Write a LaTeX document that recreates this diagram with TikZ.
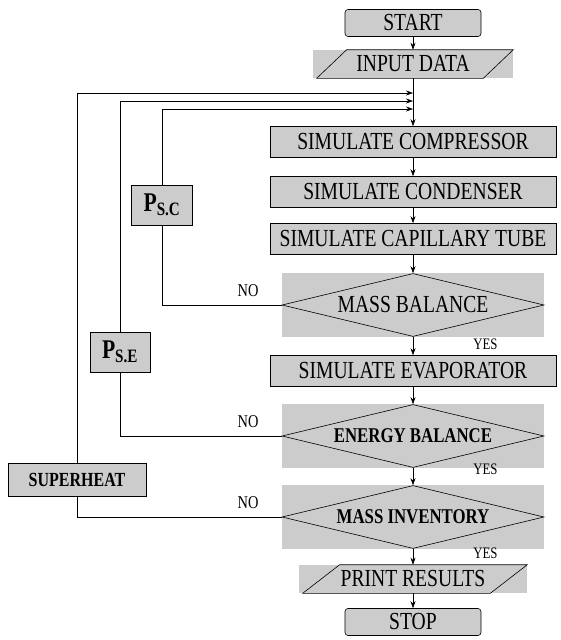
\documentclass[tikz,border=0pt]{standalone}
\usepackage{fontspec}
\setmainfont[FakeStretch=0.8]{Liberation Serif}
\usetikzlibrary{arrows.meta,shapes.geometric,positioning,backgrounds}

\begin{document}
\begin{tikzpicture}[x=1pt, y=1pt, ->, >={Stealth[length=7pt,width=5pt]}, line width=0.6pt,
    grey/.style={fill=black!20},
    proc/.style={rectangle, draw, grey, minimum width=286pt, minimum height=31pt, inner sep=0pt,
      font=\fontsize{24.5}{25}\selectfont},
    term/.style={proc, rounded corners=3pt, minimum width=136pt, minimum height=27pt},
    io/.style={rectangle, grey, minimum width=200pt, minimum height=28pt, inner sep=0pt,
      font=\fontsize{24.5}{25}\selectfont},
    test/.style={diamond, draw, grey, aspect=4, inner sep=0pt, minimum width=262pt, minimum height=63pt,
      font=\fontsize{24.5}{25}\selectfont},
    side/.style={rectangle, draw, grey, inner sep=0pt, font=\bfseries\fontsize{20}{22}\selectfont},
    lbl/.style={inner sep=0pt, font=\fontsize{18}{18}\selectfont}]
  \useasboundingbox (0,0) rectangle (560,-640);

  \node[term]  (start)                                    at (413,-23) {START};
  \node[io]    (input) [below of=start, node distance=41pt]  {INPUT DATA};
  \node[proc]  (comp)  [below of=input, node distance=78pt]  {SIMULATE COMPRESSOR};
  \node[proc]  (cond)  [below of=comp,  node distance=50pt]  {SIMULATE CONDENSER};
  \node[proc]  (cap)   [below of=cond,  node distance=47pt]  {SIMULATE CAPILLARY TUBE};
  \node[test]  (mb)    [below of=cap,   node distance=66pt]  {MASS BALANCE};
  \node[proc]  (evap)  [below of=mb,    node distance=66pt]  {SIMULATE EVAPORATOR};
  \node[test, font=\bfseries\fontsize{21}{22}\selectfont]
               (eb)    [below of=evap,  node distance=65pt]  {ENERGY BALANCE};
  \node[test, font=\bfseries\fontsize{21}{22}\selectfont]
               (mi)    [below of=eb,    node distance=81pt]  {MASS INVENTORY};
  \node[io, minimum width=228pt]
               (pr)    [below of=mi,    node distance=62pt]  {PRINT RESULTS};
  \node[term]  (stop)  [below of=pr,    node distance=43pt]  {STOP};

  \node[side, minimum width=61pt, minimum height=40pt]  (psc) at (162,-205)
    {\fontsize{27}{27}\selectfont P\textsubscript{S.C}};
  \node[side, minimum width=60pt, minimum height=40pt]  (pse) at (120,-352)
    {\fontsize{27}{27}\selectfont P\textsubscript{S.E}};
  \node[side, minimum width=138pt, minimum height=33pt] (sh)  at (77,-480) {SUPERHEAT};

  \coordinate[below of=input, node distance=29pt] (j1);
  \coordinate[below of=input, node distance=37pt] (j2);
  \coordinate[below of=input, node distance=45pt] (j3);

  % grey boxes behind the slanted and diamond shapes
  \begin{scope}[on background layer]
    \foreach \n in {mb,eb,mi}
      \fill[black!20] (\n.west |- \n.north) rectangle (\n.east |- \n.south);
  \end{scope}
  \foreach \n/\s in {input/30pt,pr/37pt}
    \draw[-] ([xshift=4pt]\n.south west) -- ([xshift=\s+4pt]\n.north west)
      -- (\n.north east) -- ([xshift=-\s]\n.south east) -- cycle;

  \foreach \d/\y in {mb/2pt,eb/-4pt,mi/-1pt}{
    \node[lbl, above left=8pt and 23pt of \d.west] (no\d) {NO};
    \node[lbl, font=\fontsize{16}{16}\selectfont, below right=\y and 60pt of \d.south] (yes\d) {YES};
  }

  \path (start) edge (input)
        (input) edge (comp)
        (comp)  edge (cond)
        (cond)  edge (cap)
        (cap)   edge (mb)
        (mb)    edge (evap)
        (evap)  edge (eb)
        (eb)    edge (mi)
        (mi)    edge (pr)
        (pr)    edge (stop);

  \draw (psc.north) |- (j3);
  \draw (pse.north) |- (j2);
  \draw (sh.north)  |- (j1);
  \draw[-] (mb.west) -| (psc.south);
  \draw[-] (eb.west) -| (pse.south);
  \draw[-] (mi.west) -| (sh.south);
\end{tikzpicture}
\end{document}
